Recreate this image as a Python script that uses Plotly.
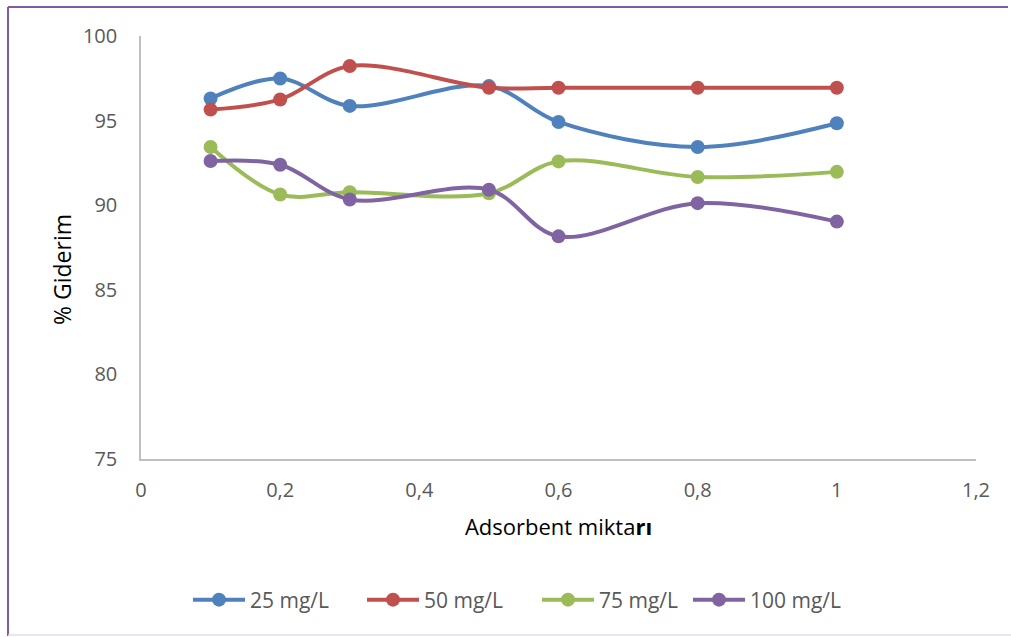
import plotly.graph_objects as go

# Adsorbent amount (g) and removal efficiency (%) for each initial concentration
adsorbent = [0.1, 0.2, 0.3, 0.5, 0.6, 0.8, 1.0]
giderim_25 = [96.31, 97.49, 95.87, 97.04, 94.92, 93.44, 94.84]
giderim_50 = [95.65, 96.25, 98.22, 96.94, 96.94, 96.94, 96.94]
giderim_75 = [93.44, 90.63, 90.77, 90.71, 92.59, 91.67, 91.97]
giderim_100 = [92.61, 92.39, 90.34, 90.91, 88.16, 90.12, 89.03]

series_names = ["25 mg/L", "50 mg/L", "75 mg/L", "100 mg/L"]
series_values = [giderim_25, giderim_50, giderim_75, giderim_100]
colors = ["#4F81BD", "#C0504D", "#9BBB59", "#8064A2"]

W, H = 1011, 637
L, R, T, B = 141, 35, 36, 178
pw, ph = W - L - R, H - T - B


def px_x(p):
    return (p - L) / pw


def px_y(p):
    return (H - B - p) / ph


# left edge of each legend entry, in pixels
legend_left = [188, 362, 537, 688]
legend_ids = ["legend", "legend2", "legend3", "legend4"]

fig = go.Figure()
for name, vals, col, lid in zip(series_names, series_values, colors, legend_ids):
    fig.add_trace(go.Scatter(
        x=adsorbent, y=vals, name=name, mode="lines+markers",
        line=dict(color=col, width=4, shape="spline", smoothing=1.0),
        marker=dict(color=col, size=14),
        cliponaxis=False, legend=lid,
    ))

tick_font = dict(family="Open Sans", size=20, color="#595959")
title_font = dict(family="Open Sans", size=22, color="#000000")

legend_style = dict(
    orientation="h", xanchor="left", yanchor="middle",
    font=dict(family="Open Sans", size=21, color="#595959"),
    itemwidth=52, bgcolor="rgba(0,0,0,0)",
)
legends = {
    lid: dict(legend_style, x=px_x(xl), y=px_y(600))
    for lid, xl in zip(legend_ids, legend_left)
}

fig.update_layout(
    width=W, height=H,
    margin=dict(l=L, r=R, t=T, b=B),
    paper_bgcolor="white", plot_bgcolor="white",
    separators=",.",
    showlegend=True,
    xaxis=dict(
        range=[0, 1.2], dtick=0.2, tick0=0,
        showgrid=False, zeroline=False,
        showline=True, linecolor="#BFBFBF", linewidth=1.5,
        ticks="", tickfont=tick_font, ticklabelstandoff=12,
        title=dict(text="Adsorbent mikta<b>rı</b>", font=title_font, standoff=18),
    ),
    yaxis=dict(
        range=[75, 100], dtick=5, tick0=75,
        showgrid=False, zeroline=False,
        showline=True, linecolor="#BFBFBF", linewidth=1.5,
        ticks="", tickfont=tick_font, ticklabelstandoff=18,
    ),
    annotations=[
        dict(text="% Giderim", xref="paper", yref="paper",
             x=px_x(62), y=px_y(270), xanchor="center", yanchor="middle",
             textangle=-90, showarrow=False,
             font=dict(family="Open Sans", size=23, color="#000000")),
    ],
    shapes=[
        # chart frame
        dict(type="line", xref="paper", yref="paper",
             x0=px_x(8), x1=px_x(8), y0=px_y(7), y1=px_y(636),
             line=dict(color="#7F5BA6", width=2)),
        dict(type="line", xref="paper", yref="paper",
             x0=px_x(8), x1=px_x(1008), y0=px_y(7), y1=px_y(7),
             line=dict(color="#7F5BA6", width=2)),
        dict(type="line", xref="paper", yref="paper",
             x0=px_x(8), x1=px_x(1011), y0=px_y(635), y1=px_y(635),
             line=dict(color="#E4DDEE", width=1.5)),
    ],
)
fig.update_layout(**legends)

fig.write_html("out.html")
